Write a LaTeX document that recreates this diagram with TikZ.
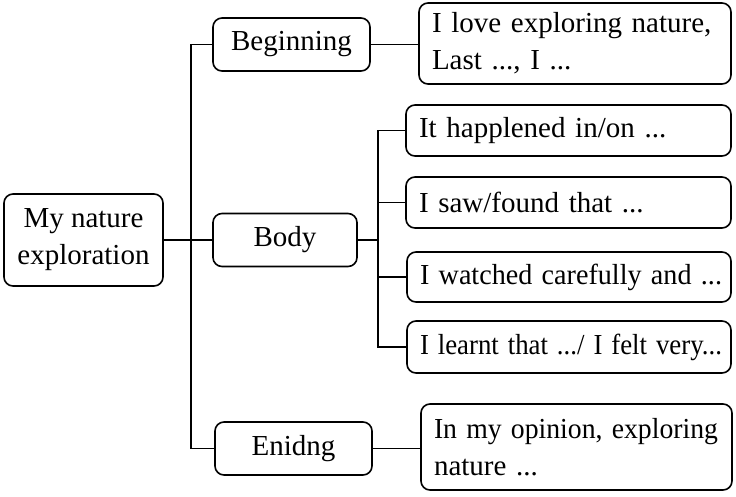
\documentclass[tikz,border=0pt]{standalone}
\usepackage{fontspec}
\usepackage{graphicx}
\setmainfont{Liberation Serif}
\begin{document}
\begin{tikzpicture}[x=1pt,y=-1pt,
  box/.style={draw, line width=1.6pt, rounded corners=9pt, inner sep=0pt,
    font=\fontsize{29}{37}\selectfont},
  lbox/.style={box, align=left, text width=#1},
  conn/.style={line width=1.4pt}]
\useasboundingbox (0,0) rectangle (736,496);
% level 0
\node[box, minimum width=159pt, minimum height=92pt, align=center] (root) at (83.5,240) {My nature\\exploration};
% level 1
\node[box, minimum width=157pt, minimum height=53pt] (beg) at (291.5,44.5) {Beginning};
\node[box, minimum width=144pt, minimum height=53pt] (body) at (285,240) {Body};
\node[box, minimum width=157pt, minimum height=53pt] (end) at (293.5,448.5) {Enidng};
% level 2
\node[lbox=286pt, minimum width=312pt, minimum height=81pt] (love) at (575,43.5) {\mbox{I love exploring nature,}\\\mbox{Last ..., I ...}};
\node[lbox=299pt, minimum width=325pt, minimum height=51pt] (s1) at (568.5,130.5) {\mbox{It happlened in/on ...}};
\node[lbox=299pt, minimum width=325pt, minimum height=51pt] (s2) at (568.5,202.5) {\mbox{I saw/found that ...}};
\node[lbox=298pt, minimum width=324pt, minimum height=50pt] (s3) at (569,277) {\resizebox{302pt}{\height}{I watched carefully and ...}};
\node[lbox=298pt, minimum width=324pt, minimum height=52pt] (s4) at (569,347) {\resizebox{302pt}{\height}{I learnt that .../ I felt very...}};
\node[lbox=285pt, minimum width=311pt, minimum height=86pt] (op) at (576.5,447) {\resizebox{284pt}{\height}{In my opinion, exploring}\\\mbox{nature ...}};
% trunks
\coordinate (t) at (191,0);
\coordinate (u) at (378,0);
\draw[conn] (root.east) -- (body.west);
\draw[conn] (beg.west) -- (beg.west -| t) -- (end.west -| t) -- (end.west);
\draw[conn] (beg.east) -- (beg.east -| love.west);
\draw[conn] (end.east) -- (end.east -| op.west);
\draw[conn] (body.east) -- (body.east -| u);
\draw[conn] (s1.west) -- (s1.west -| u) -- (s4.west -| u) -- (s4.west);
\draw[conn] (s2.west) -- (s2.west -| u);
\draw[conn] (s3.west) -- (s3.west -| u);
\end{tikzpicture}
\end{document}
